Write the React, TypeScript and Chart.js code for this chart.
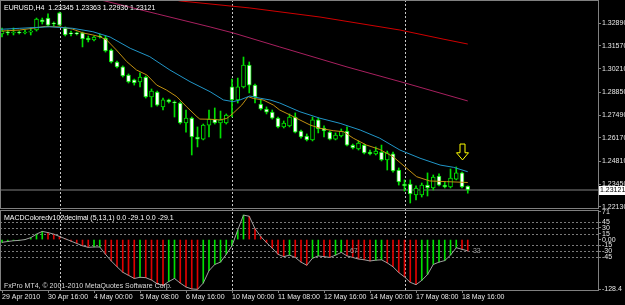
import React, { useEffect, useRef } from "react";
import { Chart, registerables } from "chart.js";

Chart.register(...registerables);

// ---------- data ----------
const OPEN = [
  1.3225, 1.3236, 1.3231, 1.3236, 1.3231, 1.3236, 1.3248, 1.3307, 1.3318, 1.3289,
  1.3348, 1.3260, 1.3231, 1.3231, 1.3231, 1.3201, 1.3190, 1.3213, 1.3201, 1.3131,
  1.3061, 1.3032, 1.2985, 1.2956, 1.2944, 1.2973, 1.2856, 1.2885, 1.2798, 1.2839,
  1.2827, 1.2821, 1.2704, 1.2733, 1.2622, 1.2610, 1.2692, 1.2727, 1.2704, 1.2704,
  1.2915, 1.2839, 1.2915, 1.3043, 1.2926, 1.2815, 1.2786, 1.2768, 1.2733, 1.2681,
  1.2687, 1.2739, 1.2657, 1.2628, 1.2605, 1.2722, 1.2675, 1.2651, 1.2610, 1.2628,
  1.2657, 1.2575, 1.2552, 1.2575, 1.2534, 1.2523, 1.2534, 1.2488, 1.2523, 1.2429,
  1.2347, 1.2347, 1.2283, 1.2283, 1.2341, 1.2324, 1.2394, 1.2341, 1.2330, 1.2376,
  1.2412, 1.23345,
];
const HIGH = [
  1.3260, 1.3248, 1.3260, 1.3242, 1.3248, 1.3260, 1.3318, 1.3318, 1.3342, 1.3295,
  1.3353, 1.3266, 1.3242, 1.3236, 1.3236, 1.3213, 1.3213, 1.3225, 1.3213, 1.3137,
  1.3067, 1.3038, 1.2991, 1.2961, 1.2997, 1.2979, 1.2903, 1.2891, 1.2850, 1.2844,
  1.2833, 1.2827, 1.2780, 1.2739, 1.2681, 1.2698, 1.2780, 1.2792, 1.2774, 1.2757,
  1.2961, 1.2967, 1.3090, 1.3061, 1.2932, 1.2839, 1.2798, 1.2780, 1.2739, 1.2716,
  1.2757, 1.2763, 1.2663, 1.2640, 1.2739, 1.2733, 1.2687, 1.2657, 1.2646, 1.2669,
  1.2681, 1.2581, 1.2599, 1.2581, 1.2546, 1.2564, 1.2575, 1.2540, 1.2534, 1.2441,
  1.2371, 1.2371, 1.2336, 1.2353, 1.2412, 1.2400, 1.2406, 1.2359, 1.2435, 1.2447,
  1.2417, 1.23363,
];
const LOW = [
  1.3207, 1.3219, 1.3219, 1.3225, 1.3225, 1.3219, 1.3242, 1.3283, 1.3272, 1.3272,
  1.3272, 1.3213, 1.3213, 1.3219, 1.3149, 1.3178, 1.3184, 1.3201, 1.3119, 1.3055,
  1.3026, 1.2973, 1.2938, 1.2926, 1.2915, 1.2850, 1.2798, 1.2803, 1.2780, 1.2821,
  1.2739, 1.2698, 1.2651, 1.2517, 1.2564, 1.2605, 1.2622, 1.2698, 1.2616, 1.2698,
  1.2739, 1.2821, 1.2909, 1.2880, 1.2821, 1.2780, 1.2757, 1.2727, 1.2675, 1.2675,
  1.2681, 1.2646, 1.2616, 1.2599, 1.2599, 1.2646, 1.2622, 1.2605, 1.2605, 1.2622,
  1.2570, 1.2552, 1.2546, 1.2523, 1.2517, 1.2517, 1.2482, 1.2429, 1.2417, 1.2341,
  1.2306, 1.2236, 1.2254, 1.2271, 1.2277, 1.2312, 1.2336, 1.2324, 1.2324, 1.2371,
  1.2324, 1.22936,
];
const CLOSE = [
  1.3242, 1.3231, 1.3236, 1.3231, 1.3236, 1.3242, 1.3312, 1.3295, 1.3277, 1.3283,
  1.3277, 1.3219, 1.3225, 1.3225, 1.3196, 1.3190, 1.3207, 1.3207, 1.3125, 1.3061,
  1.3032, 1.2979, 1.2944, 1.2938, 1.2973, 1.2856, 1.2891, 1.2809, 1.2839, 1.2827,
  1.2821, 1.2704, 1.2733, 1.2622, 1.2610, 1.2692, 1.2727, 1.2704, 1.2722, 1.2751,
  1.2839, 1.2915, 1.3043, 1.2926, 1.2856, 1.2786, 1.2768, 1.2733, 1.2681, 1.2704,
  1.2739, 1.2651, 1.2622, 1.2605, 1.2722, 1.2669, 1.2657, 1.2610, 1.2634, 1.2657,
  1.2575, 1.2558, 1.2587, 1.2529, 1.2523, 1.2540, 1.2488, 1.2529, 1.2423, 1.2359,
  1.2336, 1.2289, 1.2324, 1.2341, 1.2324, 1.2388, 1.2341, 1.2330, 1.2382, 1.2412,
  1.2330, 1.23121,
];

// moving averages: [bar index, price]
const MA_GOLD: [number, number][] = [
  [0, 1.3242], [3.1, 1.3248], [5.7, 1.326], [7.5, 1.3269], [10.1, 1.3266], [12.2, 1.3254],
  [14.1, 1.3231], [15.8, 1.3219], [17.0, 1.3209], [18.2, 1.319], [19.9, 1.3131], [21.7, 1.3063],
  [23.4, 1.3014], [25.2, 1.2985], [26.9, 1.2926], [28.6, 1.2897], [30.4, 1.2858], [32.1, 1.2799],
  [33.9, 1.2741], [34.4, 1.2727], [36.2, 1.2726], [37.9, 1.2722], [39.1, 1.2731], [40.2, 1.2761],
  [41.7, 1.2809], [42.8, 1.2858], [43.7, 1.2848], [45.4, 1.2839], [47.2, 1.2809], [48.3, 1.278],
  [50.1, 1.2751], [51.8, 1.2722], [53.6, 1.2692], [55.3, 1.2673], [57.6, 1.2659], [59.4, 1.2653],
  [61.1, 1.2615], [63.4, 1.2575], [65.7, 1.2549], [68.0, 1.2507], [70.4, 1.2439], [72.1, 1.239],
  [74.4, 1.2365], [77.3, 1.2361], [81, 1.2356],
];
const MA_BLUE: [number, number][] = [
  [-0.35, 1.3252], [3.1, 1.3258], [8.3, 1.3267], [12.3, 1.3258], [15.8, 1.3238], [18.8, 1.3207],
  [22.3, 1.3141], [25.7, 1.3092], [29.2, 1.3014], [32.7, 1.2946], [36.2, 1.2887], [38.5, 1.2839],
  [40.2, 1.2829], [41.4, 1.2839], [43.1, 1.2862], [44.9, 1.2849], [46.6, 1.2839], [48.3, 1.2821],
  [51.8, 1.277], [55.3, 1.2732], [58.8, 1.2702], [62.3, 1.2663], [65.7, 1.2615], [69.2, 1.2546],
  [72.7, 1.2498], [76.2, 1.2458], [78.5, 1.2445], [81, 1.2419],
];
const MA_MAGENTA: [number, number][] = [
  [10, 1.3475], [17.9, 1.3418], [27, 1.3342], [36.2, 1.3266], [40.2, 1.3231], [48.3, 1.3149],
  [60, 1.3032], [70.1, 1.2938], [81, 1.2833],
];
const MA_RED: [number, number][] = [
  [25.7, 1.3453], [31, 1.3418], [43.1, 1.3377], [55.3, 1.3324], [69.2, 1.3248], [76.7, 1.3195],
  [81, 1.3166],
];

const MACD = [
  -7, -5, -3, -2, 0, 5, 14, 21, 18, 14,
  8, 2, -4, -10, -16, -20, -19, -19, -38, -55,
  -70, -84, -92, -100, -97, -98, -104, -114, -118, -108,
  -100, -112, -122, -127, -128, -112, -80, -64, -58, -38,
  -16, 25, 63, 60, 28, 8, -8, -22, -38, -44,
  -40, -46, -58, -66, -48, -42, -44, -46, -40, -33,
  -42, -46, -50, -52, -55, -53, -52, -60, -70, -85,
  -96, -110, -116, -105, -90, -64, -58, -54, -40, -21,
  -25, -29.1,
];

const X_TICK_BARS = [0, 8, 16, 24, 32, 40, 48, 56, 64, 72, 80];
const X_TICK_LABELS = [
  "29 Apr 2010", "30 Apr 16:00", "4 May 00:00", "5 May 08:00", "6 May 16:00",
  "10 May 00:00", "11 May 08:00", "12 May 16:00", "14 May 00:00", "17 May 08:00", "18 May 16:00",
];
const SEPARATOR_BARS = [10, 40, 70];
const PRICE_TICKS = [1.3289, 1.3157, 1.3021, 1.2885, 1.2749, 1.2617, 1.2481, 1.2345, 1.2213];
const MACD_TICKS = [71, 45, 30, 15, 0, -15, -30, -45, -128.4];
const MACD_TICK_LABELS = ["71", "45", "30", "15", "0.00", "-15", "-30", "-45", "-128.4"];
const MACD_LEVELS = [45, 30, 15, -15, -30, -45];
const LAST_PRICE = 1.23121;
const ARROW_BAR = 80;
const ARROW_TOP = 1.2581;
const ARROW_TIP = 1.2488;
const MACD_NOTES = [
  { bar: 60.5, value: -30, text: "67" },
  { bar: 81.9, value: -30, text: "33" },
];
const TITLE = "EURUSD,H4  1.23345 1.23363 1.22936 1.23121";
const MACD_TITLE = "MACDColoredv102decimal (5,13,1) 0.0 -29.1 0.0 -29.1";
const COPYRIGHT = "FxPro MT4, \u00a9 2001-2010 MetaQuotes Software Corp.";

// ---------- styling ----------
const FONT = '"Liberation Sans", Arial, sans-serif';
const FS = 7;
const TXT = "#e6e6e6";
const FRAME = "#808080";
const CANDLE = "#00e000";

const X_MIN = -0.348;
const X_MAX = 103.65;
const PRICE_MAX = 1.34236;
const PRICE_MIN = 1.21951;
const MACD_MAX = 76.1;
const MACD_MIN = -129.7;

const decor = {
  id: "mtDecor",
  beforeDraw(chart: any) {
    const { ctx } = chart;
    ctx.save();
    ctx.fillStyle = "#000";
    ctx.fillRect(0, 0, chart.width, chart.height);
    ctx.restore();
  },
  beforeDatasetsDraw(chart: any) {
    const { ctx } = chart;
    const { x, y, y2 } = chart.scales;
    ctx.save();
    ctx.lineWidth = 1;
    ctx.setLineDash([2, 2]);
    ctx.strokeStyle = "#7a7a7a";
    for (const lv of MACD_LEVELS) {
      const py = Math.round(y2.getPixelForValue(lv)) + 0.5;
      ctx.beginPath();
      ctx.moveTo(x.left, py);
      ctx.lineTo(x.right, py);
      ctx.stroke();
    }
    ctx.strokeStyle = "#c8c8c8";
    for (const b of SEPARATOR_BARS) {
      const px = Math.round(x.getPixelForValue(b)) + 0.5;
      ctx.beginPath();
      ctx.moveTo(px, y.top);
      ctx.lineTo(px, y2.bottom);
      ctx.stroke();
    }
    ctx.restore();
  },
  afterDatasetsDraw(chart: any) {
    const { ctx } = chart;
    const { x, y, y2 } = chart.scales;
    ctx.save();
    // arrow
    const cx = x.getPixelForValue(ARROW_BAR) + 0.5;
    const ty = y.getPixelForValue(ARROW_TOP);
    const by = y.getPixelForValue(ARROW_TIP);
    const hy = ty + (by - ty) * 0.55;
    ctx.strokeStyle = "#ffff00";
    ctx.lineWidth = 1;
    ctx.beginPath();
    ctx.moveTo(cx - 2.5, ty);
    ctx.lineTo(cx + 2.5, ty);
    ctx.lineTo(cx + 2.5, hy);
    ctx.lineTo(cx + 6, hy);
    ctx.lineTo(cx, by);
    ctx.lineTo(cx - 6, hy);
    ctx.lineTo(cx - 2.5, hy);
    ctx.closePath();
    ctx.stroke();

    // texts
    ctx.font = `${FS}px ${FONT}`;
    ctx.textBaseline = "middle";
    ctx.textAlign = "left";
    ctx.fillStyle = "#ffffff";
    ctx.fillText(TITLE, 4, 8);
    ctx.fillText(MACD_TITLE, 4, 218);
    ctx.fillStyle = "#dcdcdc";
    ctx.fillText(COPYRIGHT, 4, 286);
    ctx.fillStyle = "#a0a0a0";
    for (const n of MACD_NOTES) {
      ctx.fillText(n.text, x.getPixelForValue(n.bar), y2.getPixelForValue(n.value));
    }

    // frames
    ctx.strokeStyle = FRAME;
    ctx.strokeRect(0.5, 0.5, Math.round(x.right), Math.round(y.bottom) - 2);
    ctx.strokeRect(0.5, Math.round(y2.top) + 0.5, Math.round(x.right), Math.round(y2.bottom - y2.top));
    ctx.restore();
  },
  afterDraw(chart: any) {
    const { ctx } = chart;
    const { x, y } = chart.scales;
    const py = Math.round(y.getPixelForValue(LAST_PRICE));
    ctx.save();
    ctx.fillStyle = "#ffffff";
    ctx.fillRect(Math.round(x.right) + 1, py - 4, 30, 9);
    ctx.fillStyle = "#000000";
    ctx.font = `${FS}px ${FONT}`;
    ctx.textBaseline = "middle";
    ctx.textAlign = "left";
    ctx.fillText(LAST_PRICE.toFixed(5), Math.round(x.right) + 2, py + 0.5);
    ctx.restore();
  },
};

export default function App() {
  const ref = useRef<HTMLCanvasElement | null>(null);

  useEffect(() => {
    if (!ref.current) return;
    const bars = OPEN.map((_, i) => i);
    const bodyData = bars.map((i) => ({ x: i, y: [OPEN[i], CLOSE[i]] }));
    const wickData = bars.map((i) => ({ x: i, y: [LOW[i], HIGH[i]] }));
    const bodyFill = bars.map((i) => (CLOSE[i] >= OPEN[i] ? "#000000" : "#ffffff"));
    const macdData = MACD.map((v, i) => ({ x: i, y: v }));
    const macdColors = MACD.map((v, i) => (i === 0 || v >= MACD[i - 1] ? "#00e000" : "#e00000"));
    const toPts = (arr: [number, number][]) => arr.map(([b, p]) => ({ x: b, y: p }));
    const line = (data: any, color: string, axis = "y", order = 0) => ({
      type: "line" as const,
      data,
      borderColor: color,
      borderWidth: 1,
      pointRadius: 0,
      tension: 0,
      yAxisID: axis,
      order,
    });

    const chart = new Chart(ref.current, {
      type: "bar",
      data: {
        datasets: [
          line(toPts(MA_RED), "#d00000"),
          line(toPts(MA_MAGENTA), "#a8205f"),
          line(toPts(MA_BLUE), "#2196c8"),
          line(toPts(MA_GOLD), "#c09010"),
          {
            type: "bar",
            data: bodyData as any,
            backgroundColor: bodyFill,
            borderColor: CANDLE,
            borderWidth: 1,
            borderSkipped: false,
            barThickness: 4,
            grouped: false,
            yAxisID: "y",
            order: 1,
          },
          {
            type: "bar",
            data: wickData as any,
            backgroundColor: CANDLE,
            borderWidth: 0,
            barThickness: 1,
            grouped: false,
            yAxisID: "y",
            order: 2,
          },
          line(
            [
              { x: X_MIN, y: LAST_PRICE },
              { x: X_MAX, y: LAST_PRICE },
            ],
            "#808080",
            "y",
            3
          ),
          line(macdData, "#a0a0a0", "y2", 0),
          {
            type: "bar",
            data: macdData as any,
            backgroundColor: macdColors,
            borderWidth: 0,
            barThickness: 1,
            grouped: false,
            yAxisID: "y2",
            order: 1,
          },
        ] as any,
      },
      options: {
        responsive: false,
        animation: false,
        devicePixelRatio: 1,
        events: [],
        layout: { padding: 0 },
        plugins: { legend: { display: false }, tooltip: { enabled: false } },
        scales: {
          x: {
            type: "linear",
            position: "bottom",
            min: X_MIN,
            max: X_MAX,
            offset: false,
            afterBuildTicks: (s: any) => {
              s.ticks = X_TICK_BARS.map((v) => ({ value: v }));
            },
            afterFit: (s: any) => {
              s.height = 15;
              s.paddingLeft = 0;
              s.paddingRight = 0;
            },
            ticks: {
              align: "start",
              maxRotation: 0,
              minRotation: 0,
              autoSkip: false,
              color: TXT,
              padding: 0,
              font: { family: FONT, size: FS },
              callback: (v: any) => X_TICK_LABELS[X_TICK_BARS.indexOf(v)] ?? "",
            },
            grid: { offset: false, drawOnChartArea: false, drawTicks: true, tickLength: 3, color: FRAME },
            border: { display: false },
          },
          y: {
            type: "linear",
            position: "right",
            stack: "panes",
            stackWeight: 210,
            min: PRICE_MIN,
            max: PRICE_MAX,
            afterBuildTicks: (s: any) => {
              s.ticks = PRICE_TICKS.map((v) => ({ value: v }));
            },
            afterFit: (s: any) => {
              s.width = 27;
              s.paddingTop = 0;
              s.paddingBottom = 0;
            },
            ticks: {
              autoSkip: false,
              color: TXT,
              padding: 1,
              font: { family: FONT, size: FS },
              callback: (v: any) => Number(v).toFixed(5),
            },
            grid: { drawOnChartArea: false, drawTicks: true, tickLength: 3, color: FRAME },
            border: { display: false },
          },
          y2: {
            type: "linear",
            position: "right",
            stack: "panes",
            stackWeight: 80,
            min: MACD_MIN,
            max: MACD_MAX,
            afterBuildTicks: (s: any) => {
              s.ticks = MACD_TICKS.map((v) => ({ value: v }));
            },
            afterFit: (s: any) => {
              s.width = 27;
              s.paddingTop = 0;
              s.paddingBottom = 0;
            },
            ticks: {
              autoSkip: false,
              color: TXT,
              padding: 1,
              font: { family: FONT, size: FS },
              callback: (v: any) => MACD_TICK_LABELS[MACD_TICKS.indexOf(v)] ?? "",
            },
            grid: { drawOnChartArea: false, drawTicks: true, tickLength: 3, color: FRAME },
            border: { display: false },
          },
        },
      } as any,
      plugins: [decor],
    });
    return () => chart.destroy();
  }, []);

  return (
    <div style={{ position: "fixed", left: 0, top: 0, width: 625, height: 305, background: "#000" }}>
      <canvas ref={ref} width={625} height={305} style={{ display: "block" }} />
    </div>
  );
}
